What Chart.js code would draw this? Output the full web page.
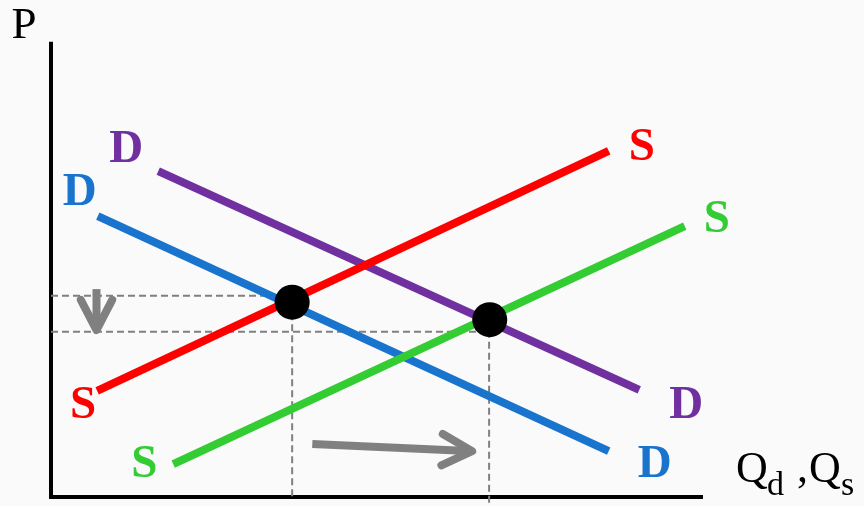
<!DOCTYPE html>
<html>
<head>
<meta charset="utf-8">
<script src="https://cdn.jsdelivr.net/npm/chart.js@4.4.1/dist/chart.umd.min.js"></script>
<style>
  html, body { margin: 0; padding: 0; background: #fafafa; }
  #wrap { width: 864px; height: 506px; position: relative; }
</style>
</head>
<body>
<div id="wrap"><canvas id="chart"></canvas></div>
<script>
// 축 길이 (수량 Q, 가격 P)
const axisQ = [0, 10];
const axisP = [0, 10.07];

// 공급 / 수요 곡선 끝점 (x = 수량, y = 가격)
const supply1Q = [0.71, 8.58];
const supply1P = [2.36, 7.69];
const supply2Q = [1.88, 9.75];
const supply2P = [0.73, 6.02];
const demand1Q = [0.72, 8.58];
const demand1P = [6.24, 1.02];
const demand2Q = [1.65, 9.05];
const demand2P = [7.24, 2.38];

// 균형점
const eqQ = [3.71, 6.75];
const eqP = [4.33, 3.94];

// 점선 수준
const priceLevels = [4.47, 3.67];
const priceLevelEnds = [3.71, 6.75];
const qtyLevels = [3.71, 6.74];
const qtyLevelTops = [4.33, 3.94];
const qtyLevelBottoms = [0, -0.2];

// 화살표 (가격 하락, 수량 증가)
const arrowDownQ = [0.70, 0.70];
const arrowDownP = [4.62, 3.71];
const arrowRightQ = [4.02, 6.48];
const arrowRightP = [1.18, 1.02];

const pts = (xs, ys) => xs.map((x, i) => ({ x: x, y: ys[i] }));

const RED = "#ff0000";
const GREEN = "#33cc33";
const BLUE = "#1874cd";
const PURPLE = "#7030a0";
const GRAY = "#808080";

function curve(xs, ys, color, text, offs) {
  return {
    data: pts(xs, ys),
    showLine: true,
    borderColor: color,
    borderWidth: 8,
    borderCapStyle: "butt",
    pointRadius: 0,
    order: 1,
    endLabel: { text: text, color: color, offs: offs },
  };
}

function dashed(xs, ys) {
  return {
    data: pts(xs, ys),
    showLine: true,
    borderColor: GRAY,
    borderWidth: 2,
    borderDash: [7, 4],
    pointRadius: 0,
    order: 2,
  };
}

const datasets = [
  // 축
  { data: pts([axisQ[0], axisQ[0]], axisP), showLine: true, borderColor: "#000", borderWidth: 4, borderCapStyle: "square", pointRadius: 0, order: 3 },
  { data: pts(axisQ, [axisP[0], axisP[0]]), showLine: true, borderColor: "#000", borderWidth: 4, borderCapStyle: "square", pointRadius: 0, order: 3 },
  // 점선
  dashed([0, priceLevelEnds[0]], [priceLevels[0], priceLevels[0]]),
  dashed([0, priceLevelEnds[1]], [priceLevels[1], priceLevels[1]]),
  dashed([qtyLevels[0], qtyLevels[0]], [qtyLevelTops[0], qtyLevelBottoms[0]]),
  dashed([qtyLevels[1], qtyLevels[1]], [qtyLevelTops[1], qtyLevelBottoms[1]]),
  // 곡선
  curve(supply1Q, supply1P, RED, "S", [[-14, 11], [33, -7]]),
  curve(supply2Q, supply2P, GREEN, "S", [[-29, -3], [32, -10]]),
  curve(demand1Q, demand1P, BLUE, "D", [[-18, -27], [46, 10]]),
  curve(demand2Q, demand2P, PURPLE, "D", [[-32, -25], [47, 12]]),
  // 균형점
  {
    data: pts(eqQ, eqP),
    pointRadius: 17.5,
    pointBackgroundColor: "#000",
    pointBorderWidth: 0,
    order: 0,
  },
];

function arrow(ctx, x1, y1, x2, y2) {
  const ang = Math.atan2(y2 - y1, x2 - x1);
  const len = 34, spread = 0.48;
  ctx.save();
  ctx.strokeStyle = GRAY;
  ctx.lineWidth = 8;
  ctx.lineCap = "butt";
  ctx.beginPath();
  ctx.moveTo(x1, y1);
  ctx.lineTo(x2 - 4 * Math.cos(ang), y2 - 4 * Math.sin(ang));
  ctx.stroke();
  ctx.lineCap = "round";
  ctx.lineJoin = "round";
  ctx.beginPath();
  ctx.moveTo(x2 - len * Math.cos(ang - spread), y2 - len * Math.sin(ang - spread));
  ctx.lineTo(x2, y2);
  ctx.lineTo(x2 - len * Math.cos(ang + spread), y2 - len * Math.sin(ang + spread));
  ctx.stroke();
  ctx.restore();
}

const extras = {
  id: "extras",
  afterDatasetsDraw(chart) {
    const ctx = chart.ctx;
    const xs = chart.scales.x, ys = chart.scales.y;

    // 화살표
    arrow(ctx, xs.getPixelForValue(arrowDownQ[0]), ys.getPixelForValue(arrowDownP[0]),
      xs.getPixelForValue(arrowDownQ[1]), ys.getPixelForValue(arrowDownP[1]));
    arrow(ctx, xs.getPixelForValue(arrowRightQ[0]), ys.getPixelForValue(arrowRightP[0]),
      xs.getPixelForValue(arrowRightQ[1]), ys.getPixelForValue(arrowRightP[1]));

    // 곡선 라벨
    ctx.save();
    ctx.font = 'bold 47px "Liberation Serif"';
    ctx.textAlign = "center";
    ctx.textBaseline = "alphabetic";
    chart.data.datasets.forEach((ds, i) => {
      if (!ds.endLabel) return;
      const meta = chart.getDatasetMeta(i);
      ctx.fillStyle = ds.endLabel.color;
      meta.data.forEach((p, k) => {
        const o = ds.endLabel.offs[k];
        ctx.fillText(ds.endLabel.text, p.x + o[0], p.y + o[1] + 16);
      });
    });

    // 축 이름
    const ox = xs.getPixelForValue(axisQ[0]);
    const top = ys.getPixelForValue(axisP[1]);
    const ex = xs.getPixelForValue(axisQ[1]);
    const oy = ys.getPixelForValue(axisP[0]);
    ctx.fillStyle = "#000";
    ctx.font = '45px "Liberation Serif"';
    ctx.fillText("P", ox - 27, top - 6);
    ctx.textAlign = "left";
    ctx.font = '44px "Liberation Serif"';
    ctx.fillText("Q", ex + 35, oy - 15);
    ctx.fillText(",", ex + 96, oy - 15);
    ctx.fillText("Q", ex + 108, oy - 15);
    ctx.font = '34px "Liberation Serif"';
    ctx.fillText("d", ex + 66, oy - 2);
    ctx.fillText("s", ex + 140, oy - 2);
    ctx.restore();
  },
};

new Chart(document.getElementById("chart"), {
  type: "scatter",
  data: { datasets: datasets },
  options: {
    responsive: true,
    maintainAspectRatio: false,
    animation: false,
    layout: { padding: 0, autoPadding: false },
    plugins: { legend: { display: false }, tooltip: { enabled: false } },
    scales: {
      x: { type: "linear", display: false, min: -0.7846, max: 12.5077 },
      y: { type: "linear", display: false, min: -0.2, max: 11.0444 },
    },
  },
  plugins: [extras],
});
</script>
</body>
</html>
